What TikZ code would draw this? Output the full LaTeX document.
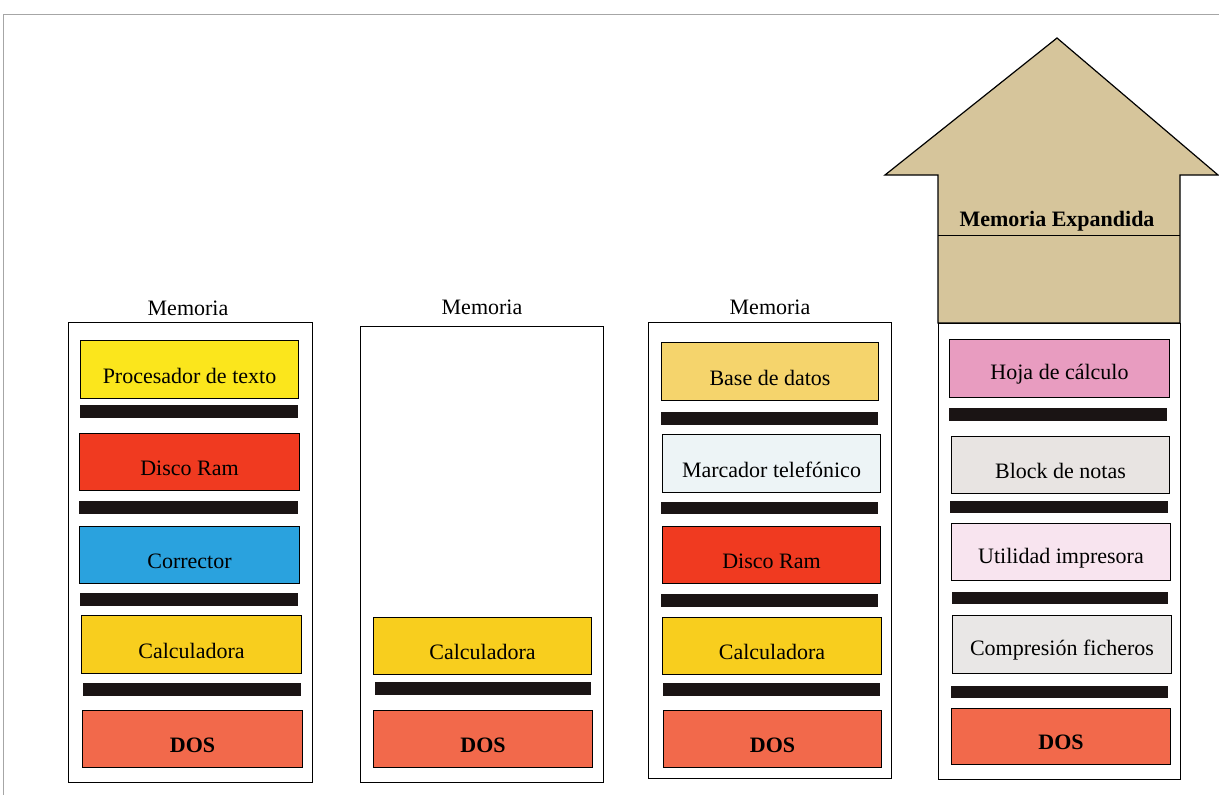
\documentclass[tikz,border=0pt]{standalone}
\usepackage{fontspec}
\setmainfont{Liberation Serif}
\definecolor{cyel}{HTML}{FBE61C}
\definecolor{cred}{HTML}{F03A20}
\definecolor{cblue}{HTML}{2AA2DE}
\definecolor{ccalc}{HTML}{F8CE1E}
\definecolor{cdos}{HTML}{F2694B}
\definecolor{cbase}{HTML}{F5D46C}
\definecolor{cmarc}{HTML}{EDF4F6}
\definecolor{choja}{HTML}{E89CC0}
\definecolor{cblock}{HTML}{E8E4E2}
\definecolor{cutil}{HTML}{F8E4EF}
\definecolor{ccomp}{HTML}{E9E7E6}
\definecolor{ctan}{HTML}{D6C59B}
\definecolor{cbar}{HTML}{1A1414}
\newcommand{\lowtext}[1]{\raisebox{-6pt}[\height][\depth]{#1}}
\begin{document}
\begin{tikzpicture}[x=1pt,y=-1pt,
  every node/.style={font=\fontsize{22}{24}\selectfont, text=black},
  outerbox/.style={draw, line width=1.2pt, fill=white, anchor=north west, inner sep=0pt},
  prog/.style={draw, line width=1pt, anchor=north west, inner sep=0pt, align=center},
  sepbar/.style={fill=cbar, anchor=north west, inner sep=0pt, minimum height=13pt},
  memlabel/.style={inner sep=0pt}]
\useasboundingbox (0,0) rectangle (1219,795);
\fill[white] (0,0) rectangle (1219,795);
\coordinate (fa) at (3,795);
\coordinate (fb) at (3,14);
\coordinate (fc) at (1219,14);
\draw[gray!70, line width=0.8pt] (fa) -- (fb) -- (fc);

% Column 1
\node[memlabel] (m1) at (188,308) {Memoria};
\node[outerbox, minimum width=244pt, minimum height=460pt] (o1) at (68,322) {};
\node[prog, fill=cyel, minimum width=218pt, minimum height=58pt] (a1) at (80,340) {\lowtext{Procesador de texto}};
\node[sepbar, minimum width=218pt] (b11) at (80,405) {};
\node[prog, fill=cred, minimum width=220pt, minimum height=57pt] (a2) at (79,433) {\lowtext{Disco Ram}};
\node[sepbar, minimum width=219pt] (b12) at (79,501) {};
\node[prog, fill=cblue, minimum width=220pt, minimum height=57pt] (a3) at (79,526) {\lowtext{Corrector}};
\node[sepbar, minimum width=218pt] (b13) at (80,593) {};
\node[prog, fill=ccalc, minimum width=220pt, minimum height=58pt] (a4) at (81,615) {\lowtext{Calculadora}};
\node[sepbar, minimum width=218pt] (b14) at (83,683) {};
\node[prog, fill=cdos, minimum width=220pt, minimum height=57pt, font=\fontsize{22}{24}\selectfont\bfseries] (a5) at (82,710) {\lowtext{DOS}};

% Column 2
\node[memlabel] (m2) at (482,307) {Memoria};
\node[outerbox, minimum width=243pt, minimum height=456pt] (o2) at (360,326) {};
\node[prog, fill=ccalc, minimum width=218pt, minimum height=57pt] (b1) at (373,617) {\lowtext{Calculadora}};
\node[sepbar, minimum width=216pt] (b21) at (375,682) {};
\node[prog, fill=cdos, minimum width=219pt, minimum height=57pt, font=\fontsize{22}{24}\selectfont\bfseries] (b2) at (373,710) {\lowtext{DOS}};

% Column 3
\node[memlabel] (m3) at (770,307) {Memoria};
\node[outerbox, minimum width=243pt, minimum height=456pt] (o3) at (648,322) {};
\node[prog, fill=cbase, minimum width=217pt, minimum height=58pt] (c1) at (661,342) {\lowtext{Base de datos}};
\node[sepbar, minimum width=217pt] (b31) at (661,412) {};
\node[prog, fill=cmarc, minimum width=218pt, minimum height=58pt] (c2) at (662,434) {\lowtext{Marcador telefónico}};
\node[sepbar, minimum width=217pt, minimum height=12pt] (b32) at (661,502) {};
\node[prog, fill=cred, minimum width=218pt, minimum height=57pt] (c3) at (662,526) {\lowtext{Disco Ram}};
\node[sepbar, minimum width=217pt] (b33) at (661,594) {};
\node[prog, fill=ccalc, minimum width=219pt, minimum height=57pt] (c4) at (662,617) {\lowtext{Calculadora}};
\node[sepbar, minimum width=217pt] (b34) at (663,683) {};
\node[prog, fill=cdos, minimum width=218pt, minimum height=57pt, font=\fontsize{22}{24}\selectfont\bfseries] (c5) at (663,710) {\lowtext{DOS}};

% Column 4: expanded memory arrow
\coordinate (ap) at (1057,38);
\coordinate (ar) at (1218,175);
\coordinate (sr) at (1180,175);
\coordinate (br) at (1180,323);
\coordinate (bl) at (938,323);
\coordinate (sl) at (938,175);
\coordinate (al) at (885,175);
\draw[fill=ctan, line width=1.2pt, line join=miter] (ap) -- (ar) -- (sr) -- (br) -- (bl) -- (sl) -- (al) -- cycle;
\coordinate (ll) at (938,235);
\coordinate (lr) at (1180,235);
\draw[line width=1pt] (ll) -- (lr);
\node[inner sep=0pt, font=\fontsize{22}{24}\selectfont\bfseries] (me) at (1057,221) {Memoria Expandida};
\node[outerbox, minimum width=242pt, minimum height=456pt] (o4) at (938,323) {};
\node[prog, fill=choja, minimum width=220pt, minimum height=58pt] (d1) at (949,339) {\lowtext{Hoja de cálculo}};
\node[sepbar, minimum width=218pt] (b41) at (949,408) {};
\node[prog, fill=cblock, minimum width=218pt, minimum height=57pt] (d2) at (951,436) {\lowtext{Block de notas}};
\node[sepbar, minimum width=218pt, minimum height=12pt] (b42) at (950,501) {};
\node[prog, fill=cutil, minimum width=219pt, minimum height=57pt] (d3) at (951,523) {\lowtext{Utilidad impresora}};
\node[sepbar, minimum width=216pt, minimum height=12pt] (b43) at (952,592) {};
\node[prog, fill=ccomp, minimum width=219pt, minimum height=58pt] (d4) at (952,615) {\lowtext{Compresión ficheros}};
\node[sepbar, minimum width=217pt, minimum height=12pt] (b44) at (951,686) {};
\node[prog, fill=cdos, minimum width=219pt, minimum height=56pt, font=\fontsize{22}{24}\selectfont\bfseries] (d5) at (951,708) {\lowtext{DOS}};
\end{tikzpicture}
\end{document}
